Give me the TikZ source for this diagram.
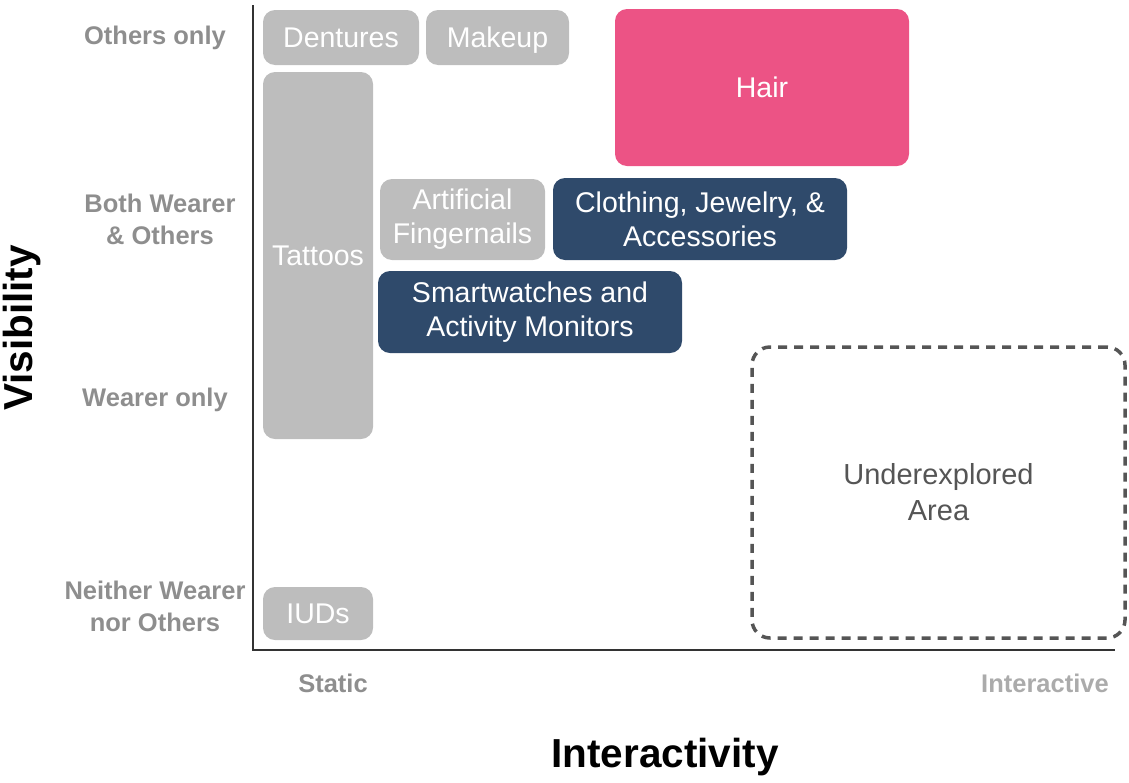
\documentclass[tikz,border=0pt]{standalone}
\usepackage{fontspec}
\setmainfont{Liberation Sans}
\usetikzlibrary{positioning}

\definecolor{boxgray}{HTML}{BDBDBD}
\definecolor{hairpink}{HTML}{EC5385}
\definecolor{navy}{HTML}{2F4A6B}
\definecolor{labelgray}{HTML}{8E8E8E}
\definecolor{lightlabel}{HTML}{ABABAB}
\definecolor{dashgray}{HTML}{555555}

\begin{document}
\begin{tikzpicture}[
    x = 1pt, y = -1pt, % pixel grid of the figure
    every node/.style = {align=center, inner sep=0pt},
    catbox/.style = {rounded corners=12pt, text=white,
        font=\fontsize{28.5}{34}\selectfont},
    graybox/.style = {catbox, fill=boxgray},
    navybox/.style = {catbox, fill=navy},
    pinkbox/.style = {catbox, fill=hairpink},
    oneline/.style = {text height=20pt, text depth=0pt},
    levellabel/.style = {text=labelgray,
        font=\fontsize{25.5}{32}\selectfont\bfseries},
    axistitle/.style = {text=black,
        font=\fontsize{40.5}{46}\selectfont\bfseries}
    ]
    \useasboundingbox (0,0) rectangle (1129,782);

    % axes
    \coordinate (top) at (253,5);
    \coordinate (origin) at (253,650);
    \coordinate (right) at (1115,650);
    \draw[line width=1.6pt, black!80] (top) -- (origin) -- (right);

    % visibility levels
    \node[levellabel] (others) at (155,38) {Others only};
    \node[levellabel] (both) at (160,219) {Both Wearer\\\& Others};
    \node[levellabel] (wearer) at (155,400) {Wearer only};
    \node[levellabel] (neither) at (155,606) {Neither Wearer\\nor Others};

    % interactivity levels
    \node[levellabel] (static) at (333,683) {Static};
    \node[levellabel, text=lightlabel] (interactive) at (1045,683) {Interactive};

    % axis titles
    \node[axistitle, rotate=90] (vis) at (22,328) {Visibility};
    \node[axistitle] (inter) at (665,757) {Interactivity};

    % categories
    \node[graybox, oneline, minimum width=156pt, minimum height=55pt] (dentures) at (341,37.5) {Dentures};
    \node[graybox, oneline, minimum width=143pt, minimum height=55pt] (makeup) at (497.5,37.5) {Makeup};
    \node[pinkbox, minimum width=294pt, minimum height=157pt] (hair) at (762,87.5) {Hair};
    \node[graybox, minimum width=110pt, minimum height=367pt] (tattoos) at (318,255.5) {Tattoos};
    \node[graybox, minimum width=165pt, minimum height=81pt] (nails) at (462.5,219.5) {Artificial\\Fingernails};
    \node[navybox, minimum width=294pt, minimum height=82pt] (clothing) at (700,219) {Clothing, Jewelry, \&\\Accessories};
    \node[navybox, minimum width=304pt, minimum height=82pt] (watches) at (530,312) {Smartwatches and\\Activity Monitors};
    \node[graybox, oneline, minimum width=110pt, minimum height=53pt] (iuds) at (318,613.5) {IUDs};

    % gap in the space
    \node[draw=dashgray, line width=3.5pt, dash pattern=on 9pt off 7pt,
        rounded corners=18pt, text=dashgray, font=\fontsize{29}{36}\selectfont,
        minimum width=373pt, minimum height=291pt] (gap) at (938.5,492.5) {Underexplored\\Area};
\end{tikzpicture}
\end{document}
